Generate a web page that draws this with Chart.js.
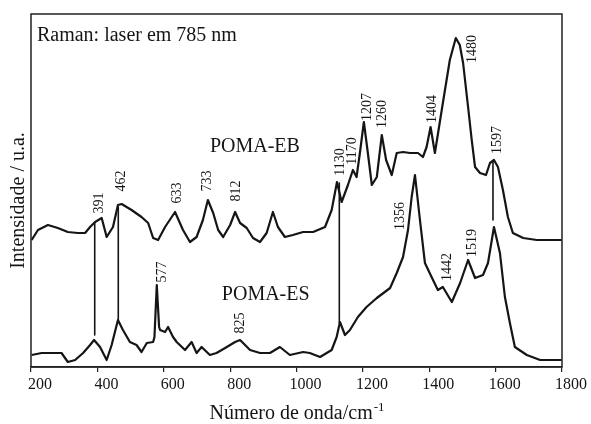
<!DOCTYPE html>
<html>
<head>
<meta charset="utf-8">
<script src="https://cdn.jsdelivr.net/npm/chart.js@4/dist/chart.umd.min.js"></script>
<style>
html,body{margin:0;padding:0;background:#fff;}
#wrap{width:591px;height:424px;position:relative;}
</style>
</head>
<body>
<div id="wrap"><canvas id="c" width="591" height="424"></canvas></div>
<script>
// ---- data (wavenumber in cm-1, intensity in arbitrary units) ----
const ebWavenumber = [202,221,251,281,311,341,363,378,393,413,428,447,462,473,503,533,553,568,583,604,634,658,679,699,718,733,749,764,779,800,815,830,850,869,890,910,929,944,965,989,1020,1050,1086,1106,1122,1136,1155,1170,1181,1191,1203,1215,1227,1242,1257,1270,1287,1302,1321,1342,1366,1381,1392,1404,1417,1441,1462,1480,1492,1502,1517,1528,1538,1553,1571,1583,1595,1607,1622,1637,1652,1683,1724,1799];
const ebIntensity  = [127,137,142,139,135,134,134,140,145,149,130,140,162,163,157,150,144,129,127,140,155,137,125,130,147,167,154,137,130,142,155,144,139,129,125,134,155,140,130,132,135,135,140,157,185,165,182,197,190,214,245,214,182,190,232,207,192,214,215,214,214,210,220,240,214,264,307,329,322,304,260,227,200,194,192,204,207,200,177,150,134,129,127,127];

const esWavenumber = [202,232,262,292,311,333,357,378,390,408,428,443,462,477,498,518,533,549,568,572,579,586,589,604,613,628,639,664,684,699,714,739,759,785,815,830,860,890,920,950,980,1020,1040,1071,1106,1121,1131,1146,1161,1185,1211,1242,1282,1302,1321,1336,1347,1357,1372,1387,1407,1426,1441,1468,1493,1517,1538,1562,1577,1595,1613,1628,1643,1658,1694,1734,1799];
const esIntensity  = [12,14,14,14,5,7,14,22,27,20,7,22,47,37,25,22,15,24,25,30,82,40,37,35,40,30,25,17,25,14,20,12,14,19,25,27,17,14,14,20,12,15,14,10,17,30,45,32,37,50,60,69,79,94,110,137,170,192,147,104,90,77,80,65,84,107,89,92,104,140,114,70,44,20,12,7,7];

// vertical connector lines between the two spectra
const linkWavenumber = [392, 463, 1129, 1592];
const linkTop        = [144, 160, 184, 205];
const linkBottom     = [32, 47, 44, 147];

// peak annotations
const peakText = ['391','462','633','733','812','1130','1170','1207','1260','1404','1480','1597','1356','1442','1519','577','825'];
const peakX    = [405,471,640,730,818,1131,1167,1212,1258,1408,1529,1604,1312,1453,1529,595,830];
const peakY    = [164,186,174,186,176,205,216,260,253,258,318,227,151,100,124,95,44];

// series names and note
const seriesText = ['POMA-EB','POMA-ES','Raman: laser em 785 nm'];
const seriesX    = [739,775,218];
const seriesY    = [215,67,326];

const xTicks = [200,400,600,800,1000,1200,1400,1600,1800];

const SERIF = '"Liberation Serif","Times New Roman",serif';
const INK = '#151515';

function pts(xs, ys){ return xs.map((x,i)=>({x:x, y:ys[i]})); }

const datasets = [
  {data: pts(ebWavenumber, ebIntensity), borderColor: INK, borderWidth: 2.2, pointRadius: 0, tension: 0},
  {data: pts(esWavenumber, esIntensity), borderColor: INK, borderWidth: 2.2, pointRadius: 0, tension: 0}
];
linkWavenumber.forEach((w,i)=>{
  datasets.push({data:[{x:w,y:linkTop[i]},{x:w,y:linkBottom[i]}], borderColor: INK, borderWidth: 1.6, pointRadius: 0});
});

const decor = {
  id: 'decor',
  afterDraw(chart){
    const ctx = chart.ctx, a = chart.chartArea;
    const xs = chart.scales.x, ys = chart.scales.y;
    ctx.save();
    // frame
    ctx.strokeStyle = '#222';
    ctx.lineWidth = 1.5;
    ctx.strokeRect(a.left, a.top, a.right - a.left, a.bottom - a.top);
    // peak labels (rotated)
    ctx.fillStyle = INK;
    ctx.font = '14px ' + SERIF;
    ctx.textAlign = 'center';
    ctx.textBaseline = 'middle';
    peakText.forEach((t,i)=>{
      ctx.save();
      ctx.translate(xs.getPixelForValue(peakX[i]), ys.getPixelForValue(peakY[i]));
      ctx.rotate(-Math.PI/2);
      ctx.fillText(t, 0, 0);
      ctx.restore();
    });
    // series names
    ctx.font = '20px ' + SERIF;
    ctx.textAlign = 'left';
    ctx.textBaseline = 'alphabetic';
    seriesText.forEach((t,i)=>{
      ctx.fillText(t, xs.getPixelForValue(seriesX[i]), ys.getPixelForValue(seriesY[i]));
    });
    // x title with superscript
    const main = 'Número de onda/cm';
    const sup = '-1';
    ctx.font = '20px ' + SERIF;
    const wMain = ctx.measureText(main).width;
    ctx.font = '13px ' + SERIF;
    const wSup = ctx.measureText(sup).width;
    const cx = (a.left + a.right) / 2;
    const x0 = cx - (wMain + wSup) / 2;
    ctx.font = '20px ' + SERIF;
    ctx.fillText(main, x0, 419);
    ctx.font = '13px ' + SERIF;
    ctx.fillText(sup, x0 + wMain + 1, 411);
    // y title
    ctx.save();
    ctx.font = '20px ' + SERIF;
    ctx.textAlign = 'center';
    ctx.translate(24, (a.top + a.bottom) / 2 + 10);
    ctx.rotate(-Math.PI/2);
    ctx.fillText('Intensidade / u.a.', 0, 0);
    ctx.restore();
    ctx.restore();
  }
};

new Chart(document.getElementById('c'), {
  type: 'line',
  data: { datasets: datasets },
  options: {
    responsive: false,
    animation: false,
    parsing: true,
    layout: { padding: { left: 0, right: 29, top: 14, bottom: 0 } },
    plugins: { legend: { display: false }, tooltip: { enabled: false } },
    elements: { line: { borderJoinStyle: 'round', borderCapStyle: 'butt' } },
    scales: {
      x: {
        type: 'linear',
        min: 200, max: 1800,
        afterBuildTicks(scale){ scale.ticks = xTicks.map(v=>({value:v})); },
        afterFit(scale){ scale.height = 57; },
        ticks: { color: INK, font: { family: SERIF, size: 16 }, labelOffset: 9, padding: 3, maxRotation: 0, autoSkip: false,
                 callback: (v) => String(v) },
        grid: { display: true, drawOnChartArea: false, drawTicks: true, tickLength: 5, color: '#222', lineWidth: 1.2 },
        border: { display: true, color: '#222', width: 1.5 }
      },
      y: {
        type: 'linear',
        min: 0, max: 353,
        afterFit(scale){ scale.width = 31; },
        ticks: { display: false },
        grid: { display: false },
        border: { display: false }
      }
    }
  },
  plugins: [decor]
});
</script>
</body>
</html>
